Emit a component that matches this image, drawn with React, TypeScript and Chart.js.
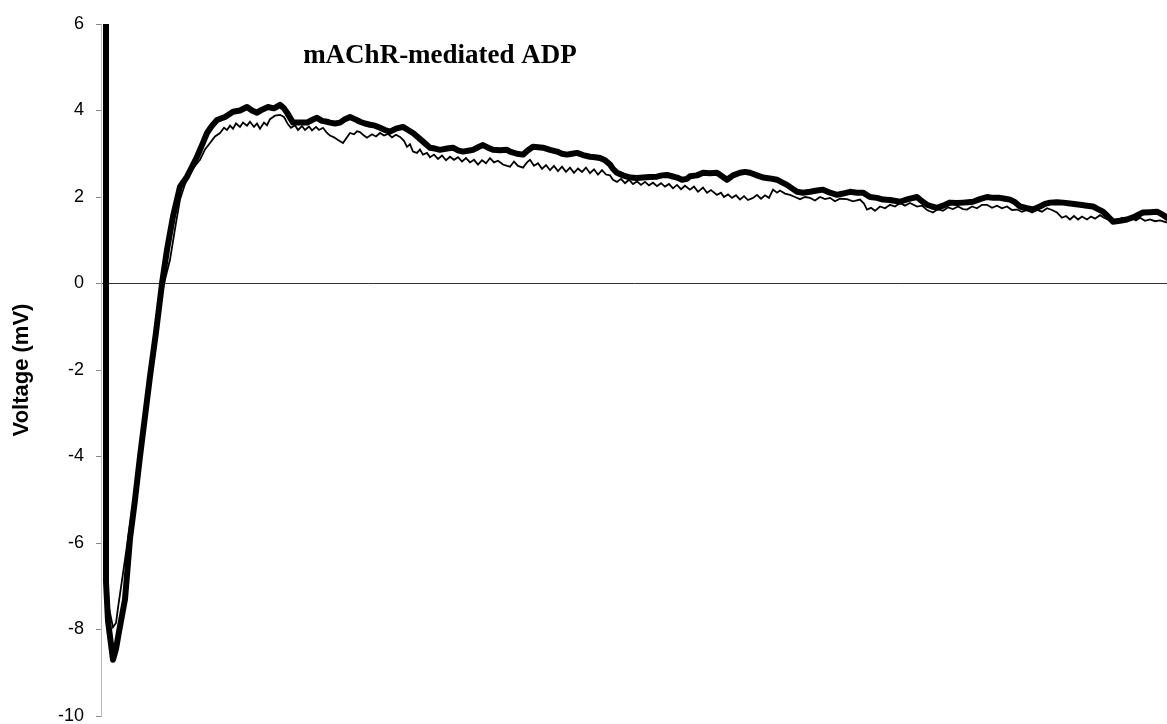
import React, { useEffect, useRef } from "react";
import { Chart, registerables } from "chart.js";

Chart.register(...registerables);

// Time after stimulus (ms) and membrane voltage (mV), averaged trace (bold)
const boldTime = [
  5, 5, 7, 12, 15, 18, 24, 29, 34, 39, 44, 49, 55, 61, 66, 72, 79, 86, 91, 96,
  101, 106, 111, 116, 124, 132, 139, 146, 151, 156, 161, 167, 173, 179, 183, 186,
  192, 199, 206, 211, 216, 221, 226, 229, 234, 239, 244, 249, 254, 259, 264, 269,
  274, 279, 284, 289, 295, 302, 307, 312, 317, 322, 329, 334, 339, 346, 352, 357,
  362, 367, 372, 377, 382, 387, 392, 399, 406, 409, 416, 422, 427, 432, 437, 442,
  449, 456, 461, 466, 471, 476, 482, 489, 494, 499, 504, 509, 512, 516, 522, 529,
  536, 542, 549, 556, 561, 566, 571, 576, 581, 586, 589, 596, 602, 609, 616, 621,
  626, 632, 639, 644, 649, 656, 662, 669, 676, 681, 686, 691, 696, 702, 709, 716,
  722, 729, 736, 742, 749, 756, 762, 769, 776, 782, 789, 799, 807, 816, 821, 826,
  831, 836, 842, 849, 856, 862, 867, 872, 879, 886, 892, 899, 904, 909, 914, 919,
  926, 932, 939, 944, 949, 956, 962, 969, 979, 986, 992, 997, 1002, 1007, 1012,
  1019, 1026, 1034, 1042, 1049, 1056, 1061, 1066,
];
const boldVoltage = [
  6.0, -6.9, -7.8, -8.7, -8.45, -8.05, -7.3, -5.9, -5.0, -4.0, -3.07, -2.15, -1.13,
  0.0, 0.78, 1.55, 2.24, 2.47, 2.7, 2.93, 3.2, 3.48, 3.65, 3.78, 3.85, 3.97, 4.0,
  4.08, 4.0, 3.95, 4.02, 4.08, 4.05, 4.13, 4.05, 3.95, 3.72, 3.72, 3.72, 3.78, 3.83,
  3.76, 3.74, 3.72, 3.7, 3.72, 3.8, 3.85, 3.8, 3.74, 3.7, 3.67, 3.65, 3.6, 3.55,
  3.51, 3.58, 3.62, 3.55, 3.48, 3.38, 3.28, 3.14, 3.12, 3.09, 3.12, 3.14, 3.08,
  3.05, 3.07, 3.09, 3.15, 3.2, 3.14, 3.09, 3.08, 3.09, 3.05, 3.0, 2.98, 3.08, 3.16,
  3.15, 3.14, 3.09, 3.05, 3.0, 2.98, 3.0, 3.02, 2.97, 2.93, 2.92, 2.9, 2.85, 2.75,
  2.65, 2.56, 2.5, 2.45, 2.44, 2.45, 2.46, 2.47, 2.5, 2.51, 2.48, 2.45, 2.4, 2.42,
  2.48, 2.5, 2.56, 2.55, 2.56, 2.48, 2.4, 2.5, 2.56, 2.58, 2.56, 2.5, 2.45, 2.43,
  2.4, 2.34, 2.28, 2.2, 2.12, 2.1, 2.12, 2.15, 2.17, 2.1, 2.05, 2.08, 2.12, 2.1,
  2.1, 2.0, 1.98, 1.94, 1.93, 1.89, 1.95, 2.0, 1.9, 1.82, 1.78, 1.75, 1.8, 1.87,
  1.86, 1.87, 1.88, 1.89, 1.95, 2.0, 1.98, 1.98, 1.96, 1.94, 1.88, 1.78, 1.74,
  1.71, 1.78, 1.84, 1.87, 1.88, 1.87, 1.85, 1.82, 1.8, 1.78, 1.72, 1.66, 1.55,
  1.43, 1.45, 1.48, 1.55, 1.64, 1.65, 1.66, 1.6, 1.52,
];

// Single trace (thin)
const thinTime = [
  5, 5, 8, 12, 15, 17, 22, 27, 34, 41, 49, 56, 63, 69, 75, 79, 84, 89, 94, 99, 104,
  109, 114, 119, 123, 126, 129, 132, 135, 139, 142, 146, 149, 153, 156, 159, 163,
  166, 169, 174, 179, 183, 187, 190, 194, 197, 201, 204, 208, 211, 215, 218, 222,
  226, 229, 233, 237, 242, 246, 249, 253, 256, 259, 263, 266, 271, 275, 279, 283,
  287, 291, 295, 299, 303, 306, 309, 312, 316, 319, 322, 326, 329, 333, 337, 341,
  345, 349, 353, 357, 361, 365, 369, 373, 377, 381, 385, 389, 393, 397, 402, 406,
  409, 413, 417, 422, 426, 429, 433, 437, 441, 445, 449, 453, 457, 461, 465, 469,
  473, 477, 481, 485, 489, 493, 497, 501, 505, 509, 512, 516, 520, 524, 528, 532,
  536, 540, 544, 548, 552, 556, 560, 564, 568, 572, 576, 580, 584, 589, 593, 597,
  602, 606, 610, 616, 620, 623, 627, 631, 635, 639, 643, 647, 652, 656, 660, 664,
  668, 672, 676, 679, 684, 689, 694, 699, 704, 709, 714, 719, 724, 729, 734, 739,
  746, 752, 759, 763, 766, 770, 774, 779, 784, 789, 794, 799, 804, 809, 816, 821,
  826, 832, 837, 842, 847, 852, 857, 862, 866, 871, 876, 881, 886, 891, 896, 901,
  906, 911, 916, 921, 926, 931, 936, 941, 946, 951, 956, 961, 965, 969, 973, 977,
  981, 986, 990, 994, 999, 1003, 1007, 1012, 1017, 1021, 1026, 1030, 1035, 1039,
  1044, 1049, 1054, 1059, 1066,
];
const thinVoltage = [
  6.0, -6.5, -7.5, -7.95, -7.85, -7.5, -6.7, -5.9, -4.8, -3.6, -2.1, -0.9, 0.0,
  0.55, 1.4, 1.94, 2.3, 2.56, 2.72, 2.86, 3.1, 3.25, 3.4, 3.48, 3.6, 3.55, 3.65,
  3.58, 3.7, 3.62, 3.72, 3.65, 3.74, 3.62, 3.7, 3.58, 3.72, 3.66, 3.8, 3.88, 3.9,
  3.85, 3.68, 3.6, 3.66, 3.55, 3.64, 3.55, 3.63, 3.54, 3.62, 3.55, 3.6, 3.48, 3.42,
  3.38, 3.32, 3.25, 3.38, 3.48, 3.45, 3.52, 3.5, 3.42, 3.37, 3.45, 3.4, 3.48, 3.42,
  3.46, 3.38, 3.44, 3.39, 3.3, 3.16, 3.22, 3.05, 3.02, 3.1, 2.98, 3.02, 2.92, 2.98,
  2.88, 2.96, 2.85, 2.93, 2.86, 2.92, 2.82, 2.9, 2.8, 2.86, 2.75, 2.85, 2.78, 2.9,
  2.8, 2.84, 2.75, 2.72, 2.7, 2.82, 2.72, 2.68, 2.8, 2.86, 2.72, 2.78, 2.65, 2.74,
  2.62, 2.72, 2.6, 2.7, 2.58, 2.68, 2.56, 2.66, 2.58, 2.68, 2.55, 2.64, 2.52, 2.62,
  2.52, 2.5, 2.4, 2.35, 2.42, 2.32, 2.4, 2.3, 2.36, 2.28, 2.35, 2.27, 2.33, 2.25,
  2.32, 2.24, 2.3, 2.2, 2.28, 2.18, 2.26, 2.17, 2.24, 2.12, 2.22, 2.1, 2.16, 2.05,
  2.1, 2.0, 2.06, 1.98, 2.04, 1.94, 2.02, 1.93, 1.98, 2.05, 1.96, 2.04, 1.98, 2.17,
  2.1, 2.15, 2.08, 2.05, 2.0, 1.95, 2.0, 1.98, 1.92, 2.0, 1.95, 1.98, 1.9, 1.96,
  1.95, 1.9, 1.94, 1.85, 1.71, 1.75, 1.68, 1.78, 1.74, 1.82, 1.78, 1.86, 1.8, 1.86,
  1.78, 1.8, 1.7, 1.64, 1.72, 1.68, 1.76, 1.72, 1.78, 1.72, 1.71, 1.78, 1.74, 1.82,
  1.82, 1.75, 1.8, 1.74, 1.78, 1.7, 1.71, 1.66, 1.7, 1.64, 1.7, 1.66, 1.74, 1.7,
  1.64, 1.52, 1.56, 1.48, 1.56, 1.48, 1.55, 1.48, 1.55, 1.5, 1.58, 1.52, 1.48, 1.48,
  1.44, 1.52, 1.48, 1.52, 1.46, 1.52, 1.45, 1.48, 1.44, 1.46, 1.41,
];

const yTicks = [-10, -8, -6, -4, -2, 0, 2, 4, 6];
const chartTitle = "mAChR-mediated ADP";
const yAxisTitle = "Voltage (mV)";

const toPoints = (xs: number[], ys: number[]) =>
  xs.map((x, i) => ({ x, y: ys[i] }));

// Draws the chart heading inside the plot area
const headingPlugin = {
  id: "heading",
  afterDraw(chart: any) {
    const { ctx, chartArea } = chart;
    ctx.save();
    ctx.font = 'bold 27px "Liberation Serif", "Times New Roman", serif';
    ctx.fillStyle = "#000";
    ctx.textAlign = "center";
    ctx.textBaseline = "alphabetic";
    const x = chartArea.left + (chartArea.right - chartArea.left) * 0.318;
    ctx.fillText(chartTitle, x, chartArea.top + 39);
    ctx.restore();
  },
};

export default function App() {
  const canvasRef = useRef<HTMLCanvasElement | null>(null);

  useEffect(() => {
    if (!canvasRef.current) return;
    const chart = new Chart(canvasRef.current, {
      type: "line",
      data: {
        datasets: [
          {
            label: "single",
            data: toPoints(thinTime, thinVoltage),
            borderColor: "#000",
            borderWidth: 1.8,
            pointRadius: 0,
            tension: 0,
            order: 2,
          },
          {
            label: "average",
            data: toPoints(boldTime, boldVoltage),
            borderColor: "#000",
            borderWidth: 6,
            pointRadius: 0,
            tension: 0,
            borderJoinStyle: "round",
            borderCapStyle: "round",
            order: 1,
          },
        ],
      },
      options: {
        animation: false,
        responsive: false,
        layout: { padding: { top: 24, bottom: 8, left: 0, right: 0 } },
        plugins: {
          legend: { display: false },
          tooltip: { enabled: false },
        },
        scales: {
          x: {
            type: "linear",
            min: 0,
            max: 1066,
            display: false,
          },
          y: {
            type: "linear",
            min: -10,
            max: 6,
            afterFit(scale: any) {
              scale.width = 101;
              scale.paddingTop = 0;
              scale.paddingBottom = 0;
            },
            afterBuildTicks(scale: any) {
              scale.ticks = yTicks.map((v) => ({ value: v }));
            },
            ticks: {
              color: "#000",
              padding: 12,
              font: { family: '"Liberation Sans", Arial, sans-serif', size: 18 },
            },
            grid: {
              drawOnChartArea: true,
              color: (c: any) => (c.tick && c.tick.value === 0 ? "#333" : "rgba(0,0,0,0)"),
              lineWidth: 1,
              tickLength: 5,
              tickColor: "#888",
            },
            border: { display: true, color: "#bbb", width: 1 },
            title: {
              display: true,
              text: yAxisTitle,
              color: "#000",
              font: { family: '"Liberation Sans", Arial, sans-serif', size: 22, weight: "bold" },
              padding: { top: 9, bottom: 0 },
            },
          },
        },
      },
      plugins: [headingPlugin],
    });
    return () => chart.destroy();
  }, []);

  return (
    <div style={{ position: "absolute", left: 0, top: 0, width: 1167, height: 724, background: "#fff" }}>
      <canvas ref={canvasRef} width={1167} height={724} />
    </div>
  );
}
